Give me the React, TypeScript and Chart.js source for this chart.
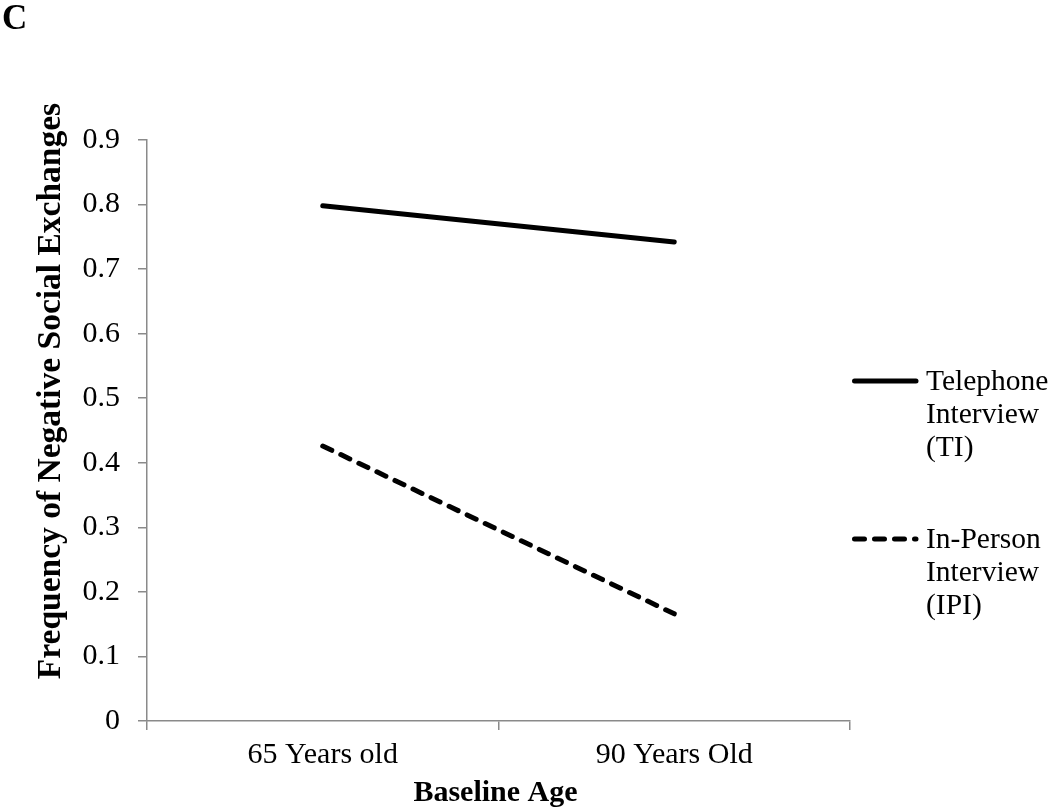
import React, { useEffect, useRef } from "react";
import { Chart, registerables } from "chart.js";

Chart.register(...registerables);

const categories = ["65 Years old", "90 Years Old"];
const telephoneValues = [0.798, 0.742];
const inPersonValues = [0.426, 0.166];
const yMin = 0;
const yMax = 0.9;
const yStep = 0.1;
const telephoneLegend = ["Telephone", "Interview", "(TI)"];
const inPersonLegend = ["In-Person", "Interview", "(IPI)"];
const xTitle = "Baseline Age";
const yTitle = "Frequency of Negative Social Exchanges";
const panelLabel = "C";

const SERIF = '"Liberation Serif", "Times New Roman", Times, serif';
const AXIS_COLOR = "#8a8a8a";

const overlayPlugin = {
  id: "overlay",
  afterDraw(chart: any) {
    const ctx = chart.ctx as CanvasRenderingContext2D;
    const area = chart.chartArea;
    ctx.save();
    ctx.fillStyle = "#000";

    // panel label
    ctx.font = `bold 35px ${SERIF}`;
    ctx.textAlign = "left";
    ctx.textBaseline = "alphabetic";
    ctx.fillText(panelLabel, 2, 29);

    // x title
    ctx.font = `bold 30px ${SERIF}`;
    ctx.textAlign = "center";
    ctx.textBaseline = "middle";
    ctx.fillText(xTitle, (area.left + area.right) / 2 - 3, 793);

    // y title
    ctx.save();
    ctx.font = `bold 33.5px ${SERIF}`;
    ctx.translate(51, 391);
    ctx.rotate(-Math.PI / 2);
    ctx.fillText(yTitle, 0, 0);
    ctx.restore();

    // legend
    const drawEntry = (ds: any, lines: string[], y: number) => {
      ctx.save();
      ctx.strokeStyle = ds.borderColor;
      ctx.lineWidth = ds.borderWidth;
      ctx.lineCap = "round";
      ctx.setLineDash(ds.borderDash || []);
      ctx.beginPath();
      ctx.moveTo(854.5, y);
      ctx.lineTo(916, y);
      ctx.stroke();
      ctx.restore();
      ctx.font = `29.5px ${SERIF}`;
      ctx.textAlign = "left";
      ctx.textBaseline = "middle";
      lines.forEach((t, i) => ctx.fillText(t, 926, y + 1 + i * 33));
    };
    drawEntry(chart.data.datasets[0], telephoneLegend, 381);
    drawEntry(chart.data.datasets[1], inPersonLegend, 539);
    ctx.restore();
  },
};

export default function App() {
  const ref = useRef<HTMLCanvasElement | null>(null);
  useEffect(() => {
    if (!ref.current) return;
    const chart = new Chart(ref.current, {
      type: "line",
      data: {
        labels: categories,
        datasets: [
          {
            label: telephoneLegend.join(" "),
            data: telephoneValues,
            borderColor: "#000",
            borderWidth: 5,
            borderCapStyle: "round",
            pointRadius: 0,
            fill: false,
            tension: 0,
          },
          {
            label: inPersonLegend.join(" "),
            data: inPersonValues,
            borderColor: "#000",
            borderWidth: 5,
            borderCapStyle: "round",
            borderDash: [10, 10],
            pointRadius: 0,
            fill: false,
            tension: 0,
          },
        ],
      },
      options: {
        responsive: false,
        animation: false,
        events: [],
        layout: { padding: { top: 140, right: 200, left: 0, bottom: 0 } },
        plugins: {
          legend: { display: false },
          title: { display: false },
          tooltip: { enabled: false },
        },
        scales: {
          x: {
            type: "category",
            offset: true,
            grid: {
              offset: true,
              drawOnChartArea: false,
              drawTicks: true,
              tickLength: 9,
              color: AXIS_COLOR,
              lineWidth: 1.5,
            },
            border: { color: AXIS_COLOR, width: 1.5 },
            ticks: {
              color: "#000",
              font: { family: SERIF, size: 30 },
              padding: 7,
              maxRotation: 0,
            },
            afterFit: (s: any) => {
              s.height = 88;
            },
          },
          y: {
            min: yMin,
            max: yMax,
            grid: {
              drawOnChartArea: false,
              drawTicks: true,
              tickLength: 9,
              color: AXIS_COLOR,
              lineWidth: 1.5,
            },
            border: { color: AXIS_COLOR, width: 1.5 },
            ticks: {
              stepSize: yStep,
              color: "#000",
              font: { family: SERIF, size: 30 },
              padding: 18,
              callback: (v: any) => String(Number(Number(v).toFixed(1))),
            },
            afterFit: (s: any) => {
              s.width = 147;
            },
          },
        },
      },
      plugins: [overlayPlugin],
    });
    return () => chart.destroy();
  }, []);
  return (
    <div style={{ position: "absolute", left: 0, top: 0, width: 1050, height: 809, background: "#fff" }}>
      <canvas ref={ref} width={1050} height={809} style={{ width: 1050, height: 809, display: "block" }} />
    </div>
  );
}
